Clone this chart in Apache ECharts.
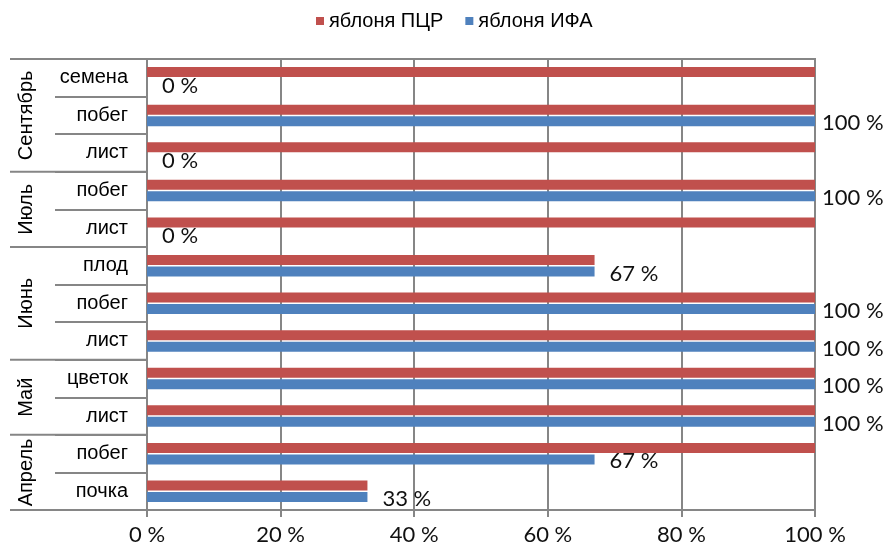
<!DOCTYPE html>
<html>
<head>
<meta charset="utf-8">
<script src="https://cdn.jsdelivr.net/npm/echarts@6/dist/echarts.min.js"></script>
<style>
html, body { margin: 0; padding: 0; background: #fff; }
#main { width: 888px; height: 547px; }
</style>
</head>
<body>
<div id="main"></div>
<script>
// строки снизу вверх
var categories = ['почка', 'побег', 'лист', 'цветок', 'лист', 'побег', 'плод', 'лист', 'побег', 'лист', 'побег', 'семена'];
// месяцы и сколько строк в каждом
var months = ['Апрель', 'Май', 'Июнь', 'Июль', 'Сентябрь'];
var monthSizes = [2, 2, 3, 2, 3];
// проценты
var pcr = [33, 100, 100, 100, 100, 100, 67, 100, 100, 100, 100, 100];
var ifa = [33, 67, 100, 100, 100, 100, 67, 0, 100, 0, 100, 0];

var gridColor = '#868686';
var chart = echarts.init(document.getElementById('main'));

// подписи у неполных столбцов стоят чуть дальше
var ifaData = ifa.map(function (v) {
	return { value: v, label: { distance: v === 100 ? 7 : 15 } };
});

var option = {
	backgroundColor: '#fff',
	animation: false,
	legend: {
		data: ['яблоня ПЦР', 'яблоня ИФА'],
		left: 311,
		top: 6,
		itemWidth: 8,
		itemHeight: 8,
		itemGap: 22,
		icon: 'rect',
		textStyle: { fontFamily: 'Liberation Sans', fontSize: 20, color: '#000' }
	},
	grid: {
		left: 147, right: 73, top: 59, bottom: 37,
		show: true, borderColor: gridColor, borderWidth: 2
	},
	xAxis: {
		type: 'value',
		min: 0, max: 100, interval: 20,
		axisLine: { show: true, lineStyle: { color: gridColor, width: 2 } },
		axisTick: { show: true, length: 7, lineStyle: { color: gridColor, width: 2 } },
		splitLine: { show: true, lineStyle: { color: gridColor, width: 2 } },
		axisLabel: {
			formatter: '{value} %', margin: 14,
			fontFamily: 'Lato', fontSize: 22, color: '#111'
		}
	},
	yAxis: {
		type: 'category',
		data: categories,
		axisLine: { show: true, lineStyle: { color: gridColor, width: 2 } },
		axisTick: { show: true, length: 92, lineStyle: { color: gridColor, width: 2 } },
		axisLabel: { margin: 19, fontFamily: 'Liberation Sans', fontSize: 20, color: '#000' }
	},
	series: [{
		name: 'яблоня ПЦР',
		type: 'bar',
		data: pcr,
		barWidth: 10,
		barGap: '15%',
		itemStyle: { color: '#C0504D' }
	}, {
		name: 'яблоня ИФА',
		type: 'bar',
		data: ifaData,
		barWidth: 10,
		barGap: '15%',
		itemStyle: { color: '#4F81BD' },
		label: {
			show: true, position: 'right', formatter: '{c} %',
			fontFamily: 'Lato', fontSize: 22, color: '#111', offset: [0, 2]
		}
	}]
};
chart.setOption(option);

// разделители групп и названия месяцев
var p0 = chart.convertToPixel({ yAxisIndex: 0 }, 0);
var p1 = chart.convertToPixel({ yAxisIndex: 0 }, 1);
var band = Math.abs(p0 - p1);
var xAxis0 = chart.convertToPixel({ xAxisIndex: 0 }, 0);
var graphics = [];
function edgeBelow(i) { return chart.convertToPixel({ yAxisIndex: 0 }, i) + band / 2; }
var start = 0;
graphics.push({
	type: 'line', shape: { x1: 10, y1: edgeBelow(0), x2: xAxis0, y2: edgeBelow(0) },
	style: { stroke: gridColor, lineWidth: 2 }
});
for (var g = 0; g < months.length; g++) {
	var end = start + monthSizes[g];
	var yTop = edgeBelow(end - 1) - band;
	var yBot = edgeBelow(start);
	graphics.push({
		type: 'line', shape: { x1: 10, y1: yTop, x2: xAxis0, y2: yTop },
		style: { stroke: gridColor, lineWidth: 2 }
	});
	graphics.push({
		type: 'text', x: 26, y: (yTop + yBot) / 2, rotation: Math.PI / 2,
		style: {
			text: months[g], textAlign: 'center', textVerticalAlign: 'middle',
			font: '20px "Liberation Sans"', fill: '#000'
		}
	});
	start = end;
}
chart.setOption({ graphic: graphics });
</script>
</body>
</html>
